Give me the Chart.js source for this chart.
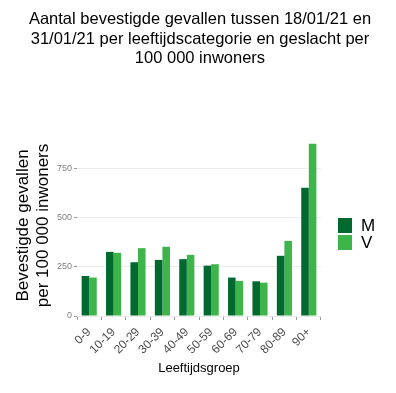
<!DOCTYPE html>
<html>
<head>
<meta charset="utf-8">
<script src="https://cdn.jsdelivr.net/npm/chart.js@4"></script>
<style>
  html, body { margin: 0; padding: 0; background: #fff; }
  #wrap { position: relative; width: 396px; height: 393px; }
  #title {
    position: absolute; left: 2px; top: 9px; width: 396px;
    text-align: center; color: #000;
    font-family: 'Liberation Sans', Arial, sans-serif;
    font-size: 16.5px; line-height: 19.5px;
  }
</style>
</head>
<body>
<div id="wrap">
  <canvas id="chart" width="396" height="393"></canvas>
  <div id="title"></div>
</div>
<script>
const ageGroups = ["0-9", "10-19", "20-29", "30-39", "40-49", "50-59", "60-69", "70-79", "80-89", "90+"];
const men = [204, 327, 274, 286, 290, 257, 196, 177, 307, 654];
const women = [196, 322, 346, 353, 312, 264, 179, 170, 383, 879];
const seriesNames = ["M", "V"];
const seriesColors = ["#00692f", "#3db54a"];
const yTicks = [0, 250, 500, 750];
const titleLines = [
    "Aantal bevestigde gevallen tussen 18/01/21 en",
    "31/01/21 per leeftijdscategorie en geslacht per",
    "100 000 inwoners"
];

const font = "'Liberation Sans', Arial, sans-serif";

document.getElementById("title").innerHTML = titleLines.join("<br>");

// legend drawn at the right, like ggplot
const sideLegend = {
    id: "sideLegend",
    afterDraw(chart) {
        const ctx = chart.ctx;
        const x = 338;
        let y = 218;
        ctx.save();
        chart.data.datasets.forEach(ds => {
            ctx.fillStyle = ds.backgroundColor;
            ctx.fillRect(x, y, 14, 15);
            ctx.fillStyle = "#000";
            ctx.font = "17px " + font;
            ctx.textBaseline = "middle";
            ctx.fillText(ds.label, x + 23, y + 8);
            y += 17;
        });
        ctx.restore();
    }
};

new Chart(document.getElementById("chart"), {
    type: "bar",
    data: {
        labels: ageGroups,
        datasets: [
            { label: seriesNames[0], data: men, backgroundColor: seriesColors[0] },
            { label: seriesNames[1], data: women, backgroundColor: seriesColors[1] }
        ]
    },
    options: {
        responsive: false,
        animation: false,
        layout: { padding: { top: 135, right: 75, left: 14, bottom: 17 } },
        datasets: {
            bar: { categoryPercentage: 0.62, barPercentage: 1.0 }
        },
        plugins: {
            legend: { display: false },
            tooltip: { enabled: false },
            title: { display: false }
        },
        scales: {
            x: {
                grid: { display: true, drawOnChartArea: false, drawTicks: true, tickLength: 4, tickColor: "#999" },
                border: { display: false },
                ticks: {
                    color: "#4d4d4d",
                    font: { family: font, size: 12 },
                    autoSkip: false,
                    minRotation: 45,
                    maxRotation: 45,
                    padding: 5
                },
                title: {
                    display: true,
                    text: "Leeftijdsgroep",
                    color: "#000",
                    font: { family: font, size: 13 },
                    padding: { top: 0, bottom: 0 }
                },
                afterFit(scale) { scale.height = 60; }
            },
            y: {
                min: 0,
                max: 923,
                grid: { color: "#ebebeb", tickColor: "#999", tickLength: 3 },
                border: { display: false },
                ticks: {
                    color: "#7f7f7f",
                    font: { family: font, size: 9 },
                    padding: 2
                },
                afterBuildTicks(scale) {
                    scale.ticks = yTicks.map(v => ({ value: v }));
                },
                title: {
                    display: true,
                    text: ["Bevestigde gevallen", "per 100 000 inwoners"],
                    color: "#000",
                    font: { family: font, size: 17, lineHeight: 1.15 },
                    padding: { top: 0, bottom: 4 }
                },
                afterFit(scale) { scale.width = 63; }
            }
        }
    },
    plugins: [sideLegend]
});
</script>
</body>
</html>
